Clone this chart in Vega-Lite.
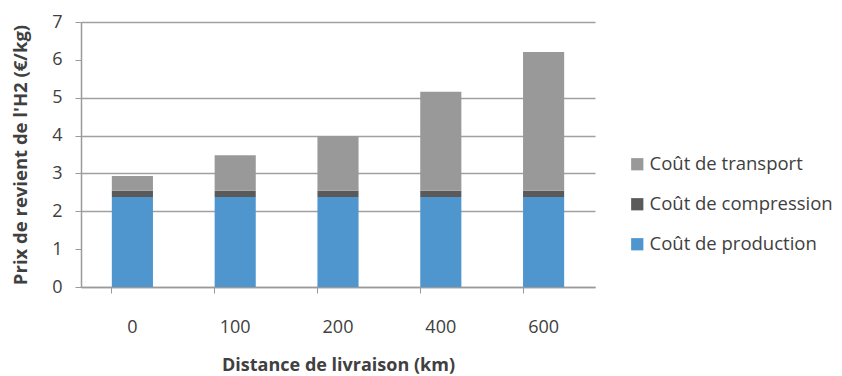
{
  "$schema": "https://vega.github.io/schema/vega-lite/v6.json",
  "width": 514,
  "height": 265,
  "autosize": {"type": "none"},
  "padding": {"left": 81, "top": 22, "right": 247, "bottom": 89},
  "background": "#ffffff",
  "config": {
    "view": {"stroke": null},
    "font": "Open Sans",
    "axis": {"labelColor": "#404040", "titleColor": "#404040", "labelFont": "Open Sans", "titleFont": "Open Sans"},
    "legend": {"labelColor": "#404040", "labelFont": "Open Sans"}
  },
  "data": {
    "values": [
      {"distance": "0", "type": "Coût de production", "o": 1, "cout": 2.38},
      {"distance": "0", "type": "Coût de compression", "o": 2, "cout": 0.16},
      {"distance": "0", "type": "Coût de transport", "o": 3, "cout": 0.39},
      {"distance": "100", "type": "Coût de production", "o": 1, "cout": 2.38},
      {"distance": "100", "type": "Coût de compression", "o": 2, "cout": 0.16},
      {"distance": "100", "type": "Coût de transport", "o": 3, "cout": 0.94},
      {"distance": "200", "type": "Coût de production", "o": 1, "cout": 2.38},
      {"distance": "200", "type": "Coût de compression", "o": 2, "cout": 0.16},
      {"distance": "200", "type": "Coût de transport", "o": 3, "cout": 1.45},
      {"distance": "400", "type": "Coût de production", "o": 1, "cout": 2.38},
      {"distance": "400", "type": "Coût de compression", "o": 2, "cout": 0.16},
      {"distance": "400", "type": "Coût de transport", "o": 3, "cout": 2.62},
      {"distance": "600", "type": "Coût de production", "o": 1, "cout": 2.38},
      {"distance": "600", "type": "Coût de compression", "o": 2, "cout": 0.16},
      {"distance": "600", "type": "Coût de transport", "o": 3, "cout": 3.67}
    ]
  },
  "mark": {"type": "bar"},
  "encoding": {
    "x": {
      "field": "distance",
      "type": "ordinal",
      "sort": ["0", "100", "200", "400", "600"],
      "scale": {"paddingInner": 0.6, "paddingOuter": 0.3},
      "axis": {
        "title": "Distance de livraison (km)",
        "titleFontSize": 18,
        "titleFontWeight": "bold",
        "titlePadding": 20,
        "labelAngle": 0,
        "labelFontSize": 18,
        "labelPadding": 25,
        "bandPosition": 0,
        "tickSize": 6,
        "tickColor": "#9a9a9a",
        "domainColor": "#9a9a9a",
        "domainWidth": 1.5
      }
    },
    "y": {
      "field": "cout",
      "type": "quantitative",
      "stack": "zero",
      "scale": {"domain": [0, 7], "nice": false},
      "axis": {
        "title": "Prix de revient de l'H2 (€/kg)",
        "titleFontSize": 18.5,
        "titleFontWeight": "bold",
        "titlePadding": 21,
        "values": [0, 1, 2, 3, 4, 5, 6, 7],
        "labelFontSize": 18,
        "labelPadding": 13,
        "tickSize": 6,
        "tickColor": "#9a9a9a",
        "domain": true,
        "domainColor": "#9a9a9a",
        "domainWidth": 1.5,
        "grid": true,
        "gridColor": "#a0a0a0",
        "gridWidth": 1.5,
        "gridOpacity": {"condition": {"test": "datum.value == 1 || datum.value == 6", "value": 0}, "value": 1}
      }
    },
    "color": {
      "field": "type",
      "type": "nominal",
      "scale": {
        "domain": ["Coût de transport", "Coût de compression", "Coût de production"],
        "range": ["#999999", "#5a5a5a", "#4f96cf"]
      },
      "legend": {
        "title": null,
        "orient": "none",
        "legendX": 547,
        "legendY": 133,
        "symbolType": "square",
        "symbolSize": 150,
        "symbolStrokeWidth": 0,
        "labelFontSize": 18.5,
        "labelLimit": 400,
        "labelOffset": 3,
        "rowPadding": 21
      }
    },
    "order": {"field": "o", "type": "quantitative"}
  }
}
